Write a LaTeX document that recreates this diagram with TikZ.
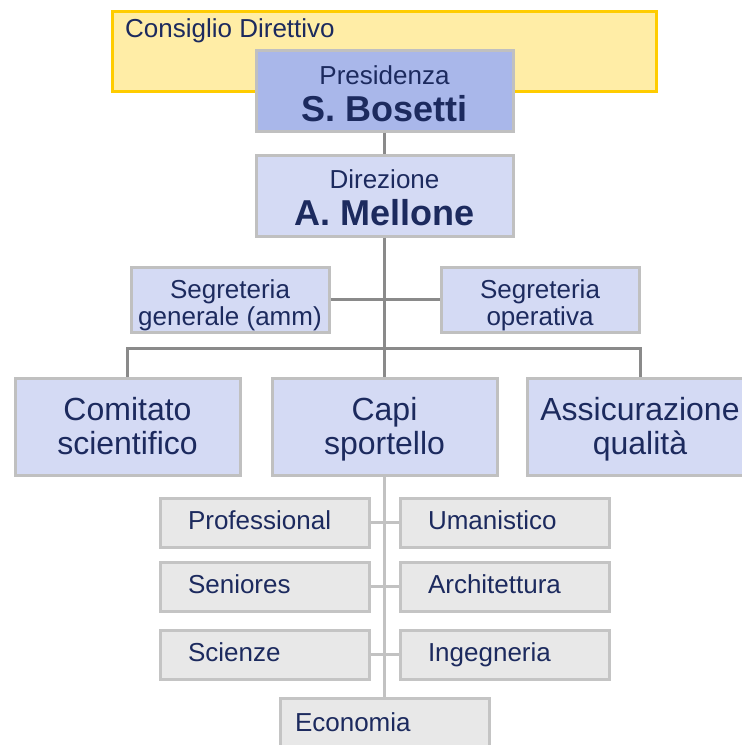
\documentclass[tikz,border=0pt]{standalone}
\usepackage{fontspec}
\setmainfont{Liberation Sans}
\definecolor{navy}{HTML}{1C2A5E}
\definecolor{yfill}{HTML}{FFEDA6}
\definecolor{ydraw}{HTML}{FFCC00}
\definecolor{pfill}{HTML}{A9B7EA}
\definecolor{bfill}{HTML}{D4DAF4}
\definecolor{bdraw}{HTML}{C0C0C0}
\definecolor{gfill}{HTML}{E8E8E8}
\definecolor{gdraw}{HTML}{C4C4C4}
\definecolor{upline}{HTML}{8A8A8A}
\definecolor{lowline}{HTML}{C2C2C2}
\newcommand\myhi[1]{\rule{0pt}{#1}}
\newcommand\mylo[1]{\rule[-#1]{0pt}{#1}}
\tikzset{
  box/.style={draw=bdraw, line width=3pt, fill=bfill, text=navy, align=center, inner sep=0pt, anchor=center},
  topbox/.style={box, minimum width=257pt, minimum height=81pt, font=\fontsize{26}{37}\selectfont},
  secbox/.style={box, minimum width=198pt, minimum height=65pt, font=\fontsize{26}{27}\selectfont},
  bigbox/.style={box, minimum width=225pt, minimum height=97pt, font=\fontsize{32}{34}\selectfont},
  graybox/.style={draw=gdraw, line width=3pt, fill=gfill, text=navy, align=left, anchor=center,
     inner xsep=28pt, inner ysep=0pt, text width=153pt, minimum height=49pt,
     text height=19pt, text depth=5.5pt, font=\fontsize{26}{27}\selectfont},
  upconn/.style={draw=upline, line width=3pt},
  lowconn/.style={draw=lowline, line width=3pt},
}
\begin{document}
\begin{tikzpicture}[x=1pt,y=-1pt]
\useasboundingbox (0,0) rectangle (742,745);
\clip (0,0) rectangle (742,745);
% Consiglio Direttivo
\node[draw=ydraw, fill=yfill, line width=3pt, minimum width=544pt, minimum height=80pt, inner sep=0pt] (cons) at (384,51) {};
\node[anchor=west, inner sep=0pt, text=navy, font=\fontsize{26}{27}\selectfont] (consl) at (125,30.6) {Consiglio Direttivo};
% top boxes
\node[topbox, fill=pfill] (pres) at (384.5,90.5) {\myhi{26pt}Presidenza\\{\bfseries\fontsize{36}{37}\selectfont S. Bosetti}\mylo{2pt}};
\node[topbox] (dir) at (384.5,195.5) {\myhi{25pt}Direzione\\{\bfseries\fontsize{36}{37}\selectfont A. Mellone}\mylo{2pt}};
% secretariats
\node[secbox] (sgen) at (230,299.5) {\myhi{30pt}Segreteria\\generale (amm)\mylo{6pt}};
\node[secbox] (sop) at (540,299.5) {\myhi{30pt}Segreteria\\operativa\mylo{6pt}};
% big boxes
\node[bigbox] (comi) at (127.5,426.5) {\myhi{30pt}Comitato\\scientifico\mylo{8pt}};
\node[bigbox] (capi) at (384.5,426.5) {\myhi{30pt}Capi\\sportello\mylo{8pt}};
\node[bigbox] (assi) at (640,426.5) {\myhi{30pt}Assicurazione\\qualità\mylo{8pt}};
% gray boxes
\node[graybox] (prof) at (264.5,522.5) {Professional};
\node[graybox] (uman) at (504.5,522.5) {Umanistico};
\node[graybox] (seni) at (264.5,586.5) {Seniores};
\node[graybox] (arch) at (504.5,586.5) {Architettura};
\node[graybox] (scie) at (264.5,654.5) {Scienze};
\node[graybox] (inge) at (504.5,654.5) {Ingegneria};
\node[graybox, inner xsep=15pt, text width=179pt, text height=24pt] (econ) at (384.5,722.5) {Economia};
% connectors
\coordinate (bar) at (384.5,348);
\draw[upconn] (pres.south) -- (dir.north);
\draw[upconn] (dir.south) -- (capi.north);
\draw[upconn] (sgen.east) -- (sop.west);
\draw[upconn] (comi.north) -- (comi.north |- bar) -- (assi.north |- bar) -- (assi.north);
\draw[lowconn] (capi.south) -- (econ.north);
\draw[lowconn] (prof.east) -- (uman.west);
\draw[lowconn] (seni.east) -- (arch.west);
\draw[lowconn] (scie.east) -- (inge.west);
\end{tikzpicture}
\end{document}
